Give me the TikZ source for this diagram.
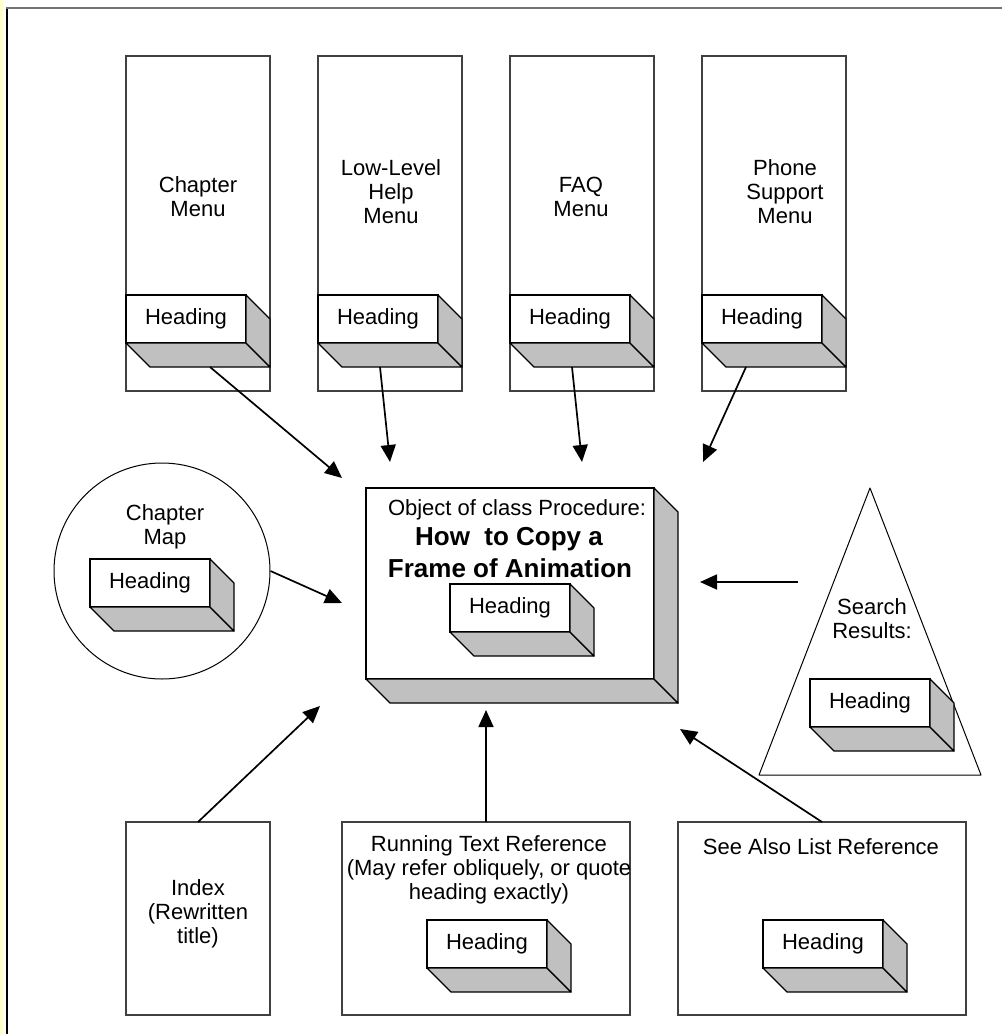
\documentclass[tikz,border=0pt]{standalone}
\usepackage{fontspec}
\setmainfont{Liberation Sans}
\usetikzlibrary{arrows.meta,calc}
\definecolor{boxgray}{RGB}{192,192,192}
\definecolor{paleyellow}{RGB}{255,255,204}

% A 3-D "Heading" block: white front face plus grey bottom and right faces
\newcommand\headingbox[3]{%
  \node[headfront] (#1) at (#2,#3) {Heading};
  \draw[headside] (#1.south west) -- ++(24,24) -- ++(120,0) -- (#1.south east) -- cycle;
  \draw[headside] (#1.north east) -- ++(24,24) -- ++(0,48) -- (#1.south east) -- cycle;
}

\begin{document}
\begin{tikzpicture}[x=1pt,y=-1pt,
  lbl/.style={font=\fontsize{22}{24}\selectfont, align=center, inner sep=0},
  ttl/.style={font=\fontsize{26}{29}\selectfont\bfseries, align=center, inner sep=0},
  panel/.style={draw=black!75, line width=1.3pt, fill=white, inner sep=0, outer sep=0},
  headfront/.style={draw=black, line width=1.2pt, fill=white, minimum width=120pt,
    minimum height=48pt, inner sep=0, outer sep=0, font=\fontsize{22}{24}\selectfont},
  headside/.style={draw=black, line width=1.2pt, fill=boxgray, line join=round},
  link/.style={draw=black, line width=1.7pt, -{Triangle[length=17pt,width=15pt]}},
]
\useasboundingbox (0,0) rectangle (1002,1034);

% page frame
\fill[paleyellow] (0,0) rectangle (3,1034);
\draw[black, line width=2pt] (6.5,7) -- (6.5,1034);
\draw[black!55, line width=2pt] (6,7.5) -- (1002,7.5);

% menus along the top
\node[panel, minimum width=144pt, minimum height=335pt] (menu1) at (198,223.5) {};
\node[panel, minimum width=144pt, minimum height=335pt] (menu2) at (390,223.5) {};
\node[panel, minimum width=144pt, minimum height=335pt] (menu3) at (582,223.5) {};
\node[panel, minimum width=144pt, minimum height=335pt] (menu4) at (774,223.5) {};
\node[lbl] (menu1txt) at (198,197) {Chapter\\Menu};
\node[lbl] (menu2txt) at (391,192) {Low-Level\\Help\\Menu};
\node[lbl] (menu3txt) at (581,197) {FAQ\\Menu};
\node[lbl] (menu4txt) at (785,192) {Phone\\Support\\Menu};
\headingbox{h1}{186}{319}
\headingbox{h2}{378}{319}
\headingbox{h3}{570}{319}
\headingbox{h4}{762}{319}

% chapter map
\node[draw=black, line width=1pt, circle, minimum size=216pt, inner sep=0] (cmap) at (162,571) {};
\node[lbl] (cmaptxt) at (165,527) {Chapter\\Map};
\headingbox{hc}{150}{583}

% central procedure object
\node[draw=black, line width=1.4pt, fill=white, minimum width=288pt, minimum height=191pt,
  inner sep=0, outer sep=0] (proc) at (510,583.5) {};
\draw[headside, line width=1.4pt] (proc.south west) -- ++(24,24) -- ++(288,0) -- (proc.south east) -- cycle;
\draw[headside, line width=1.4pt] (proc.north east) -- ++(24,24) -- ++(0,191) -- (proc.south east) -- cycle;
\node[lbl] (proctxt) at (517,510) {Object of class Procedure:};
\node[ttl] (proct1) at (509,539) {How\ \ to Copy a};
\node[ttl] (proct2) at (510,568) {Frame of Animation};
\headingbox{hp}{510}{608}

% search results
\draw[line width=1pt, line join=round] (870,488) coordinate (sapex) -- (981,775) coordinate (sright)
  -- (759,775) coordinate (sleft) -- cycle;
\node[lbl] (searchtxt) at (872,619) {Search\\Results:};
\headingbox{hs}{870}{703}

% references along the bottom
\node[panel, minimum width=144pt, minimum height=193pt] (idx) at (198,918.5) {};
\node[lbl] (idxtxt) at (198,914) {Index\\(Rewritten\\title)};
\node[panel, minimum width=288pt, minimum height=193pt] (run) at (486,918.5) {};
\node[lbl] (runtxt) at (489,870) {Running Text Reference\\(May refer obliquely, or quote\\heading exactly)};
\node[panel, minimum width=288pt, minimum height=193pt] (see) at (822,918.5) {};
\node[lbl] (seetxt) at (821,847) {See Also List Reference};
\headingbox{hr}{487}{944}
\headingbox{hl}{823}{944}

% arrow ends
\coordinate (t1) at (210,367);  \coordinate (e1) at (342,478);
\coordinate (t2) at (380,367);  \coordinate (e2) at (390,462);
\coordinate (t3) at (572,367);  \coordinate (e3) at (582,462);
\coordinate (t4) at (746,367);  \coordinate (e4) at (703,462);
\coordinate (e5) at (342,603);
\coordinate (t6) at (798,582);  \coordinate (e6) at (700,582);
\coordinate (e7) at (320,706);
\coordinate (e8) at (486,710);
\coordinate (e9) at (680,729);

% connectors
\draw[link] (t1) -- (e1);
\draw[link] (t2) -- (e2);
\draw[link] (t3) -- (e3);
\draw[link] (t4) -- (e4);
\draw[link] (cmap.east) -- (e5);
\draw[link] (t6) -- (e6);
\draw[link] (idx.north) -- (e7);
\draw[link] (run.north) -- (e8);
\draw[link] (see.north) -- (e9);
\end{tikzpicture}
\end{document}
